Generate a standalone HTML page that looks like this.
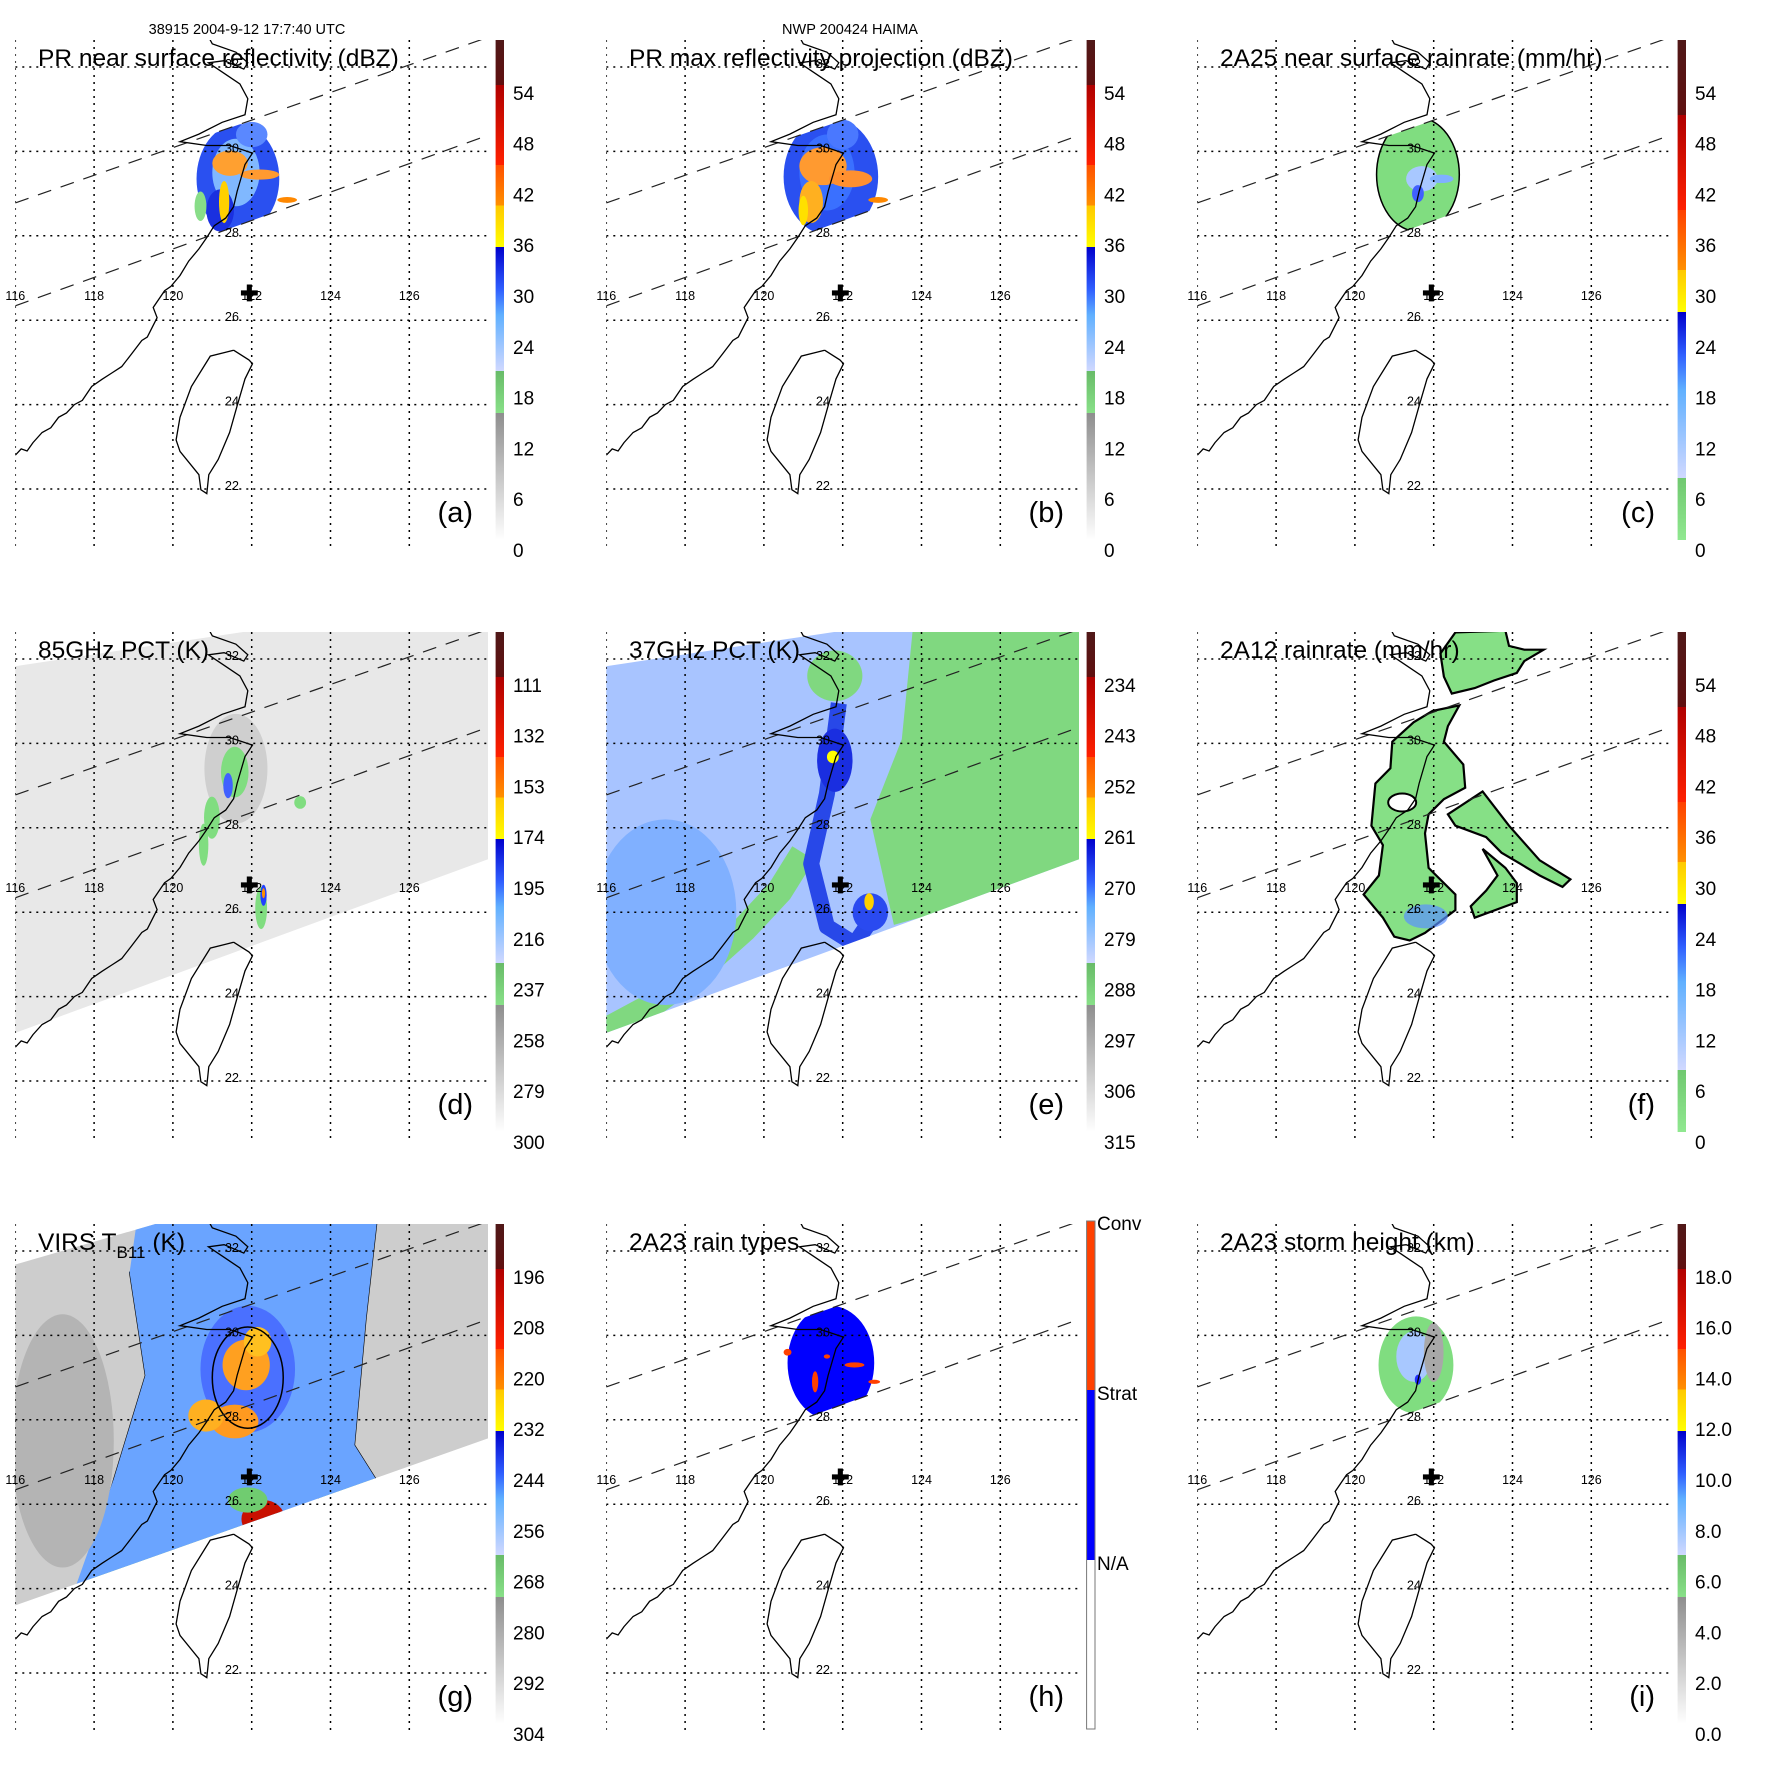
<!DOCTYPE html>
<html><head><meta charset="utf-8"><style>
html,body{margin:0;padding:0;background:#fff}
svg{display:block;font-family:"Liberation Sans",Arial,sans-serif}
</style></head><body>
<svg id="fig" xmlns="http://www.w3.org/2000/svg" width="1771" height="1771" viewBox="0 0 1771 1771">
<rect width="1771" height="1771" fill="#fff"/>
<text x="247" y="34" font-size="14.5" text-anchor="middle">38915 2004-9-12 17:7:40 UTC</text>
<text x="850" y="34" font-size="14.5" text-anchor="middle">NWP 200424 HAIMA</text>
</svg>
<script>
const NS='http://www.w3.org/2000/svg';
const lonTicks=[116,118,120,122,124,126];
const latTicks=[32,30,28,26,24,22];
const coastLon=[116.0,116.15,116.3,116.45,116.68,116.9,117.1,117.3,117.5,117.7,117.94,118.2,118.45,118.7,118.95,119.21,119.35,119.6,119.5,119.79,119.95,120.18,120.4,120.66,120.86,121.05,121.34,121.54,121.63,121.83,122.02,121.44,120.86,120.18,120.66,121.25,121.83,121.9,121.7,121.3,120.9,121.3,121.8,121.9,121.6,121.0,120.91];
const coastLat=[22.8,22.95,22.9,23.1,23.34,23.45,23.7,23.8,24.0,24.1,24.43,24.6,24.75,24.9,25.2,25.52,25.6,26.06,26.3,26.7,26.8,27.06,27.4,27.69,27.96,28.24,28.42,28.69,29.05,29.69,29.96,30.14,30.14,30.23,30.41,30.69,30.87,31.25,31.6,31.85,32.1,32.15,31.95,32.1,32.35,32.55,32.7];
const twLon=[121.54,121.93,122.02,121.83,121.63,121.44,121.15,120.91,120.86,120.71,120.66,120.18,120.08,120.18,120.47,120.95,121.34,121.54];
const twLat=[25.29,25.06,24.97,24.61,23.97,23.34,22.7,22.34,21.89,21.98,22.34,22.89,23.16,23.7,24.43,25.15,25.24,25.29];
const swathUpper=[28.78,0.327];
const swathLower=[26.34,0.337];
const centerLon=121.94, centerLat=26.62;
const cmapA=[[0,'#ffffff'],[0.254,'#8e8e8e'],[0.254,'#88e088'],[0.338,'#68bb68'],[0.338,'#d0d8ff'],[0.45,'#60b0ff'],[0.5,'#3060ff'],[0.586,'#0000cc'],[0.586,'#ffff00'],[0.669,'#ffc800'],[0.669,'#ff9000'],[0.75,'#ff5000'],[0.75,'#ff2000'],[0.91,'#b00000'],[0.91,'#601010'],[1,'#501818']];
const cmapC=[[0,'#90e890'],[0.124,'#70c870'],[0.124,'#d0d8ff'],[0.3,'#60b0ff'],[0.37,'#3060ff'],[0.456,'#0000cc'],[0.456,'#ffff00'],[0.54,'#ffc800'],[0.54,'#ff9000'],[0.66,'#ff4000'],[0.66,'#ff2000'],[0.85,'#b00000'],[0.85,'#601010'],[1,'#501818']];
const cmapH=[[0,'#ffffff'],[0.333,'#ffffff'],[0.333,'#0000ff'],[0.667,'#0000ff'],[0.667,'#ff4000'],[1,'#ff4000']];
const labelsA=['0','6','12','18','24','30','36','42','48','54'];
const labelsD=['300','279','258','237','216','195','174','153','132','111'];
const labelsE=['315','306','297','288','279','270','261','252','243','234'];
const labelsG=['304','292','280','268','256','244','232','220','208','196'];
const labelsI=['0.0','2.0','4.0','6.0','8.0','10.0','12.0','14.0','16.0','18.0'];
const labelsH=['N/A','Strat','Conv'];
const blobsA=[[121.65,29.35,1.05,1.3,'#2a50f0'],[121.6,29.5,0.6,0.8,'#80b8ff'],[121.2,28.6,0.35,0.5,'#1a30e0'],[121.45,29.72,0.45,0.3,'#ffa030'],[121.3,28.8,0.13,0.5,'#ffd000'],[122.2,29.45,0.5,0.12,'#ff9a30'],[122.9,28.85,0.25,0.07,'#ff8800'],[122.0,30.4,0.4,0.3,'#5a88ff'],[120.7,28.7,0.15,0.35,'#88dd88']];
const blobsB=[[121.7,29.4,1.2,1.4,'#2a50f0'],[121.6,29.5,0.7,0.9,'#3a70ff'],[121.5,29.65,0.6,0.45,'#ff9a30'],[121.2,28.8,0.3,0.5,'#ffb020'],[122.2,29.35,0.55,0.2,'#ff9030'],[121.0,28.6,0.12,0.35,'#ffe000'],[122.9,28.85,0.25,0.07,'#ff8800'],[122.0,30.4,0.4,0.35,'#4a78ff']];
const blobsC=[[121.6,29.45,1.05,1.35,'#80dd80'],[121.7,29.35,0.4,0.3,'#a8c8ff'],[121.6,29.0,0.15,0.2,'#4060ff'],[122.2,29.35,0.3,0.1,'#80b0ff']];
const blobsH=[[121.7,29.35,1.1,1.35,'#0000ff'],[121.3,28.9,0.08,0.25,'#ff4000'],[122.3,29.3,0.25,0.06,'#ff4000'],[122.8,28.9,0.15,0.05,'#ff4000'],[121.6,29.5,0.08,0.05,'#ff4000'],[120.6,29.6,0.1,0.08,'#ff4000']];
const blobsI=[[121.55,29.3,0.95,1.15,'#80dd80'],[121.5,29.5,0.45,0.6,'#a8c8ff'],[122.0,29.6,0.25,0.7,'#a8a8a8'],[121.6,28.95,0.08,0.12,'#2030ff']];
const blobsD=[[121.6,29.4,0.8,1.3,'#cfcfcf'],[121.57,29.32,0.35,0.6,'#80dd80'],[120.99,28.24,0.2,0.5,'#80dd80'],[120.78,27.6,0.12,0.5,'#80dd80'],[123.23,28.6,0.15,0.15,'#80dd80'],[121.4,29.0,0.12,0.3,'#4060ff'],[122.24,26.1,0.15,0.5,'#80dd80'],[122.3,26.4,0.08,0.25,'#2040ff'],[122.3,26.45,0.04,0.12,'#ff9000']];
const blobsE=[[117.5,26.0,1.8,2.2,'#80b0ff'],[121.8,31.6,0.7,0.6,'#80d880'],[121.8,29.6,0.45,0.75,'#1a2ee0'],[122.7,26.0,0.45,0.45,'#2a4af0'],[121.75,29.68,0.15,0.15,'#ffff00'],[122.67,26.25,0.12,0.2,'#ffd000']];
const blobsG=[[117.2,27.5,1.3,3.0,'#b4b4b4'],[121.9,29.2,1.2,1.5,'#4a70ff'],[121.86,29.3,0.6,0.6,'#ffa020'],[121.57,27.96,0.6,0.4,'#ff9a20'],[120.84,28.1,0.45,0.38,'#ffb020'],[122.15,29.85,0.35,0.35,'#ffc020'],[122.29,25.65,0.55,0.45,'#c81000'],[121.9,26.1,0.5,0.3,'#70cc70']];
const polyF1=[[120.95,30.04],[121.49,30.5],[121.97,30.77],[122.65,30.9],[122.36,30.41],[122.26,30.04],[122.75,29.5],[122.8,28.95],[122.26,28.68],[121.87,28.32],[121.78,27.87],[121.87,27.05],[122.55,26.42],[122.55,26.05],[121.78,25.51],[121.39,25.33],[121.0,25.42],[120.71,25.87],[120.22,26.42],[120.61,26.87],[120.71,27.59],[120.42,28.05],[120.52,29.05],[120.9,29.41]];
const polyF2=[[122.36,28.32],[123.24,28.86],[123.91,28.05],[124.69,27.23],[125.47,26.78],[125.27,26.6],[124.69,26.87],[124.21,27.14],[123.72,27.41],[123.33,27.78],[122.55,28.05]];
const polyF3=[[123.24,27.5],[123.82,27.05],[124.11,26.69],[124.11,26.24],[123.04,25.87],[122.94,26.14],[123.33,26.51],[123.62,26.87]];
const polyF4=[[122.17,32.13],[122.55,32.63],[123.82,32.67],[123.91,32.31],[124.3,32.22],[124.79,32.22],[124.3,31.95],[124.11,31.67],[123.53,31.49],[123.04,31.31],[122.46,31.18],[122.26,31.58]];
const polyEgreen=[[123.8,32.9],[128.3,32.9],[128.3,27.0],[123.3,25.7],[122.7,28.2],[123.5,30.1]];
const polyGblue=[[119.1,32.8],[125.19,32.8],[124.9,30.39],[124.61,27.4],[125.34,26.32],[122.87,25.5],[118.52,23.87],[117.36,23.6],[118.5,26.6],[119.3,29.05],[118.9,31.49]];
const polyGgreen=[[119.8,32.8],[120.6,32.8],[120.5,30.5],[120.7,28.6],[120.3,26.8],[121.0,25.8],[123.6,25.8],[124.1,27.5],[123.8,29.5],[124.4,31.5],[124.6,32.8],[125.19,32.8],[124.9,30.39],[124.61,27.4],[125.34,26.32],[122.87,25.5],[118.52,23.87],[117.6,23.7],[118.5,26.6],[119.3,29.05],[118.9,31.49]];
const eCoastLon=[116.0,117.0,118.3,119.5,120.4,121.0];
const eCoastLat=[23.2,23.7,24.6,25.6,26.5,27.4];
const eBandLon=[121.9,121.6,121.2,121.6,122.3,122.9];
const eBandLat=[30.95,28.8,27.15,25.66,25.25,26.06];

const panels=[
 {id:'a',col:0,row:0,title:'PR near surface reflectivity (dBZ)',cmap:cmapA,labels:labelsA,blobs:blobsA,swathClip:true},
 {id:'b',col:1,row:0,title:'PR max reflectivity projection (dBZ)',cmap:cmapA,labels:labelsA,blobs:blobsB,swathClip:true},
 {id:'c',col:2,row:0,title:'2A25 near surface rainrate (mm/hr)',cmap:cmapC,labels:labelsA,blobs:blobsC,swathClip:true},
 {id:'d',col:0,row:1,title:'85GHz PCT (K)',cmap:cmapA,labels:labelsD,blobs:blobsD,bg:'#e8e8e8',edge:[23.14,0.343],top:[31.83,0.14]},
 {id:'e',col:1,row:1,title:'37GHz PCT (K)',cmap:cmapA,labels:labelsE,blobs:blobsE,bg:'#a8c4ff',edge:[23.14,0.343],top:[31.83,0.14]},
 {id:'f',col:2,row:1,title:'2A12 rainrate (mm/hr)',cmap:cmapC,labels:labelsA,blobs:[]},
 {id:'g',col:0,row:2,title:'VIRS',cmap:cmapA,labels:labelsG,blobs:blobsG,bg:'#cdcdcd',edge:[23.6,0.33],top:[31.68,0.27]},
 {id:'h',col:1,row:2,title:'2A23 rain types',cmap:cmapH,labels:labelsH,blobs:blobsH,swathClip:true},
 {id:'i',col:2,row:2,title:'2A23 storm height (km)',cmap:cmapA,labels:labelsI,blobs:blobsI,swathClip:true}
];
const svg=document.getElementById('fig');
function px(lon){return 15.3+(lon-116)*39.4;}
function py(lat){return 67+(32-lat)*42.2;}
function mk(tag,attrs,parent){const e=document.createElementNS(NS,tag);for(const k in attrs)e.setAttribute(k,attrs[k]);parent.appendChild(e);return e;}
function ptsStr(arr){return arr.map(p=>px(p[0]).toFixed(1)+','+py(p[1]).toFixed(1)).join(' ');}

panels.forEach(p=>{
 const ox=p.col*591, oy=p.row*592;
 const g=mk('g',{transform:`translate(${ox},${oy})`},svg);
 
 
 const cp=mk('clipPath',{id:'clip'+p.id},g);
 mk('rect',{x:15.3,y:40,width:472.7,height:507},cp);
 const map=mk('g',{'clip-path':`url(#clip${p.id})`},g);
 
 
 let dataG=map;
 if(p.swathClip){
  const sc=mk('clipPath',{id:'sw'+p.id},g);
  mk('polygon',{points:ptsStr([[116,swathUpper[0]],[129,swathUpper[0]+13*swathUpper[1]],[129,swathLower[0]+13*swathLower[1]],[116,swathLower[0]]])},sc);
  dataG=mk('g',{'clip-path':`url(#sw${p.id})`},map);
 }
 if(p.edge){
  const ec=mk('clipPath',{id:'ed'+p.id},g);
  mk('polygon',{points:ptsStr([[115.5,p.top[0]-0.5*p.top[1]],[116+(33.5-p.top[0])/p.top[1],33.5],[128.6,33.5],[128.6,p.edge[0]+12.6*p.edge[1]],[115.5,p.edge[0]-0.5*p.edge[1]]])},ec);
  dataG=mk('g',{'clip-path':`url(#ed${p.id})`},map);
  const bg=mk('rect',{x:0,y:0,width:500,height:560,fill:p.bg},dataG);
  
  
 }
 if(p.id==='e'){
  const gp=mk('polygon',{points:ptsStr(polyEgreen),fill:'#80d880'},dataG);
  
  
  const cs=mk('polyline',{points:ptsStr(eCoastLon.map((v,i)=>[v,eCoastLat[i]])),fill:'none',stroke:'#80d880','stroke-width':26},dataG);
  
  
  const bd=mk('polyline',{points:ptsStr(eBandLon.map((v,i)=>[v,eBandLat[i]])),fill:'none',stroke:'#2848e8','stroke-width':16,'stroke-linejoin':'round'},dataG);
  
  
 }
 if(p.id==='g'){
  const gg=mk('polygon',{points:ptsStr(polyGgreen),fill:'#78cc78',stroke:'#000','stroke-width':1.2},dataG);
  
  
  const gb=mk('polygon',{points:ptsStr(polyGblue),fill:'#6aa4ff'},dataG);
  
  
 }
 if(p.id==='f'){
  [polyF1,polyF2,polyF3,polyF4].forEach(poly=>{
   const e=mk('polygon',{points:ptsStr(poly),fill:'#86e086',stroke:'#000','stroke-width':2.2},map);
   
   
  });
  const h1=mk('ellipse',{cx:px(121.2),cy:py(28.6),rx:14,ry:9,fill:'#fff',stroke:'#000','stroke-width':2},map);
  
  
  const h2=mk('ellipse',{cx:px(121.8),cy:py(25.9),rx:22,ry:12,fill:'#5a90ff',opacity:0.7},map);
  
  
 }
 p.blobs.forEach(b=>{
  const e=mk('ellipse',{cx:px(b[0]),cy:py(b[1]),rx:b[2]*39.4,ry:b[3]*42.2,fill:b[4]},dataG);
  
  
 });
 if(p.id==='c'||p.id==='g'){
  const o=mk('ellipse',{cx:px(p.id==='c'?121.6:121.9),cy:py(p.id==='c'?29.45:29.0),rx:(p.id==='c'?1.05:0.9)*39.4,ry:(p.id==='c'?1.35:1.2)*42.2,fill:'none',stroke:'#000','stroke-width':1.5},dataG);
  
  
 }
 lonTicks.forEach(l=>{
  const e=mk('line',{x1:px(l),x2:px(l),y1:40,y2:547,stroke:'#000','stroke-width':1.5,'stroke-dasharray':'2,5'},map);
  
  
 });
 latTicks.forEach(l=>{
  const e=mk('line',{x1:15.3,x2:488,y1:py(l),y2:py(l),stroke:'#000','stroke-width':1.5,'stroke-dasharray':'2,5'},map);
  
  
 });
 [swathUpper,swathLower].forEach(s=>{
  const e=mk('line',{x1:px(116),y1:py(s[0]),x2:px(128),y2:py(s[0]+12*s[1]),stroke:'#222','stroke-width':1.2,'stroke-dasharray':'14,10'},map);
  
  
 });
 const c=mk('polyline',{points:ptsStr(coastLon.map((v,i)=>[v,coastLat[i]])),fill:'none',stroke:'#000','stroke-width':1.3},map);
 
 
 const t=mk('polyline',{points:ptsStr(twLon.map((v,i)=>[v,twLat[i]])),fill:'none',stroke:'#000','stroke-width':1.3},map);
 
 
 lonTicks.forEach(l=>{
  const e=mk('text',{x:px(l),y:300,'font-size':12.5,'text-anchor':'middle'},g);
  e.textContent=l;
  
  
 });
 latTicks.forEach(l=>{
  const e=mk('text',{x:232,y:py(l)+1,'font-size':12.5,'text-anchor':'middle'},g);
  e.textContent=l;
  
  
 });
 const m=mk('text',{x:px(centerLon),y:py(centerLat)+7,'font-size':22,'text-anchor':'middle','font-weight':'bold'},g);
 m.textContent='✚';
 
 
 const ti=mk('text',{x:38,y:66,'font-size':24.5},g);
 
 
 if(p.id==='g'){
  ti.innerHTML='VIRS T<tspan font-size="17" dy="8">B11</tspan><tspan dy="-8"> (K)</tspan>';
 } else ti.textContent=p.title;
 const le=mk('text',{x:473,y:522,'font-size':29,'text-anchor':'end'},g);
 le.textContent='('+p.id+')';
 
 
 const gr=mk('linearGradient',{id:'gr'+p.id,x1:0,y1:1,x2:0,y2:0},g);
 p.cmap.forEach(s=>mk('stop',{offset:s[0],'stop-color':s[1]},gr));
 const isH=p.id==='h';
 const cb=mk('rect',{x:495.6,y:isH?37:40,width:8.4,height:isH?508:500,fill:`url(#gr${p.id})`,stroke:isH?'#777':'none','stroke-width':1},g);
 
 
 p.labels.forEach((lab,i)=>{
  const y=isH?(377-i*170+9):(550-i*50.8+7);
  const e=mk('text',{x:isH?506:513,y:y,'font-size':19},g);
  e.textContent=lab;
  
  
 });
});
</script>
</body></html>
